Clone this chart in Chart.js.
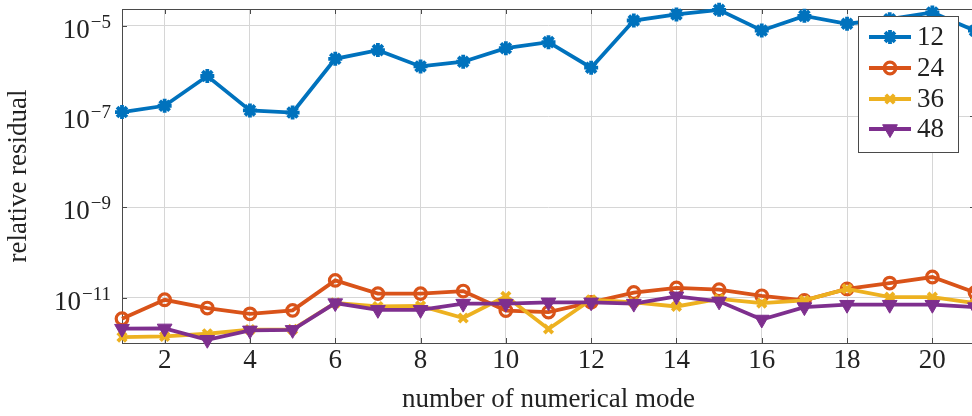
<!DOCTYPE html>
<html>
<head>
<meta charset="utf-8">
<script src="https://cdn.jsdelivr.net/npm/chart.js@4/dist/chart.umd.min.js"></script>
<style>
html, body { margin: 0; padding: 0; overflow: hidden; background: #fff; }
#wrap { width: 976px; height: 416px; }
</style>
</head>
<body>
<div id="wrap"><canvas id="myChart" width="976" height="416"></canvas></div>
<script>
var modes = [1, 2, 3, 4, 5, 6, 7, 8, 9, 10, 11, 12, 13, 14, 15, 16, 17, 18, 19, 20, 21];
var seriesNames = ["12", "24", "36", "48"];
var res12 = [1.25e-7, 1.72e-7, 7.8e-7, 1.36e-7, 1.22e-7, 1.87e-6, 2.91e-6, 1.27e-6, 1.61e-6, 3.21e-6, 4.36e-6,
  1.19e-6, 1.31e-5, 1.78e-5, 2.25e-5, 7.87e-6, 1.66e-5, 1.11e-5, 1.4e-5, 1.97e-5, 7.8e-6];
var res24 = [3.44e-12, 9.0e-12, 5.9e-12, 4.4e-12, 5.25e-12, 2.41e-11, 1.23e-11, 1.23e-11, 1.4e-11, 5.2e-12, 4.8e-12,
  7.9e-12, 1.3e-11, 1.64e-11, 1.5e-11, 1.1e-11, 8.7e-12, 1.56e-11, 2.1e-11, 2.86e-11, 1.3e-11];
var res36 = [1.35e-12, 1.4e-12, 1.6e-12, 1.97e-12, 2.0e-12, 7.7e-12, 6.4e-12, 6.6e-12, 3.56e-12, 1.07e-11, 2.04e-12,
  9.0e-12, 7.9e-12, 6.4e-12, 9.4e-12, 7.6e-12, 8.7e-12, 1.56e-11, 1.03e-11, 1.03e-11, 7.6e-12];
var res48 = [2.07e-12, 2.1e-12, 1.18e-12, 1.9e-12, 1.95e-12, 7.6e-12, 5.4e-12, 5.4e-12, 7.4e-12, 7.4e-12, 7.9e-12,
  7.9e-12, 7.4e-12, 1.07e-11, 8.3e-12, 3.3e-12, 6.2e-12, 7.0e-12, 7.0e-12, 7.0e-12, 6.2e-12];
var xTicks = [2, 4, 6, 8, 10, 12, 14, 16, 18, 20];
var yTickExps = [-11, -9, -7, -5];

var colors = ["#0072BD", "#D95319", "#EDB120", "#7E2F8E"];
var serif = "'Liberation Serif', 'DejaVu Serif', serif";

function pts(arr) {
  return arr.map(function (v, i) { return { x: modes[i], y: v }; });
}

var styles = [
  { pointStyle: "star", radius: 7, fill: false, rot: 0, bw: 3.8 },
  { pointStyle: "circle", radius: 5.8, fill: false, rot: 0, bw: 3.2 },
  { pointStyle: "crossRot", radius: 6, fill: false, rot: 0, bw: 3.8 },
  { pointStyle: "triangle", radius: 8.5, fill: true, rot: 180, bw: 1 }
];
var allData = [res12, res24, res36, res48];

var datasets = allData.map(function (arr, i) {
  var s = styles[i];
  return {
    label: seriesNames[i],
    data: pts(arr),
    borderColor: colors[i],
    backgroundColor: s.fill ? colors[i] : "rgba(0,0,0,0)",
    borderWidth: 3.8,
    pointStyle: s.pointStyle,
    pointRadius: s.radius,
    pointRotation: s.rot,
    pointBorderWidth: s.bw,
    pointBorderColor: colors[i],
    pointBackgroundColor: s.fill ? colors[i] : "rgba(0,0,0,0)",
    tension: 0,
    clip: false,
    order: 3 - i
  };
});

// axes frame + inward ticks, tick labels (with exponents), legend
var framePlugin = {
  id: "frame",
  beforeDatasetsDraw: function (chart) {
    var ctx = chart.ctx, a = chart.chartArea;
    var xs = chart.scales.x, ys = chart.scales.y;
    ctx.save();
    ctx.strokeStyle = "#4a4a4a";
    ctx.lineWidth = 1;
    ctx.beginPath();
    xTicks.forEach(function (t) {
      var px = Math.round(xs.getPixelForValue(t)) + 0.5;
      ctx.moveTo(px, a.bottom); ctx.lineTo(px, a.bottom - 5);
      ctx.moveTo(px, a.top); ctx.lineTo(px, a.top + 5);
    });
    yTickExps.forEach(function (e) {
      var py = Math.round(ys.getPixelForValue(Math.pow(10, e))) + 0.5;
      ctx.moveTo(a.left, py); ctx.lineTo(a.left + 5, py);
      ctx.moveTo(a.right, py); ctx.lineTo(a.right - 5, py);
    });
    ctx.stroke();
    ctx.strokeRect(Math.round(a.left) + 0.5, Math.round(a.top) + 0.5,
      Math.round(a.right - a.left), Math.round(a.bottom - a.top));
    ctx.restore();
  },
  afterDraw: function (chart) {
    var ctx = chart.ctx, ys = chart.scales.y, xs = chart.scales.x, a = chart.chartArea;
    ctx.save();
    ctx.fillStyle = "#222";
    ctx.textAlign = "right";
    ctx.textBaseline = "alphabetic";
    yTickExps.forEach(function (e) {
      var py = ys.getPixelForValue(Math.pow(10, e));
      var sup = "\u2212" + Math.abs(e);
      ctx.font = "19px " + serif;
      var supW = ctx.measureText(sup).width;
      ctx.fillText(sup, 111, py + 2);
      ctx.font = "27px " + serif;
      ctx.fillText("10", 111 - supW - 1, py + 12);
    });
    ctx.textAlign = "center";
    ctx.font = "27px " + serif;
    xTicks.forEach(function (t) {
      ctx.fillText(String(t), xs.getPixelForValue(t), a.bottom + 25);
    });
    ctx.restore();

    // legend
    var lx = 858, ly = 16, lw = 100, lh = 136;
    var rows = [37, 68, 99, 129];
    ctx.save();
    ctx.fillStyle = "#fff";
    ctx.fillRect(lx, ly, lw, lh);
    ctx.strokeStyle = "#4a4a4a";
    ctx.lineWidth = 1;
    ctx.strokeRect(lx + 0.5, ly + 0.5, lw, lh);
    datasets.forEach(function (d, i) {
      var y = rows[i];
      ctx.strokeStyle = d.borderColor;
      ctx.lineWidth = d.borderWidth;
      ctx.beginPath();
      ctx.moveTo(869, y); ctx.lineTo(911, y);
      ctx.stroke();
      ctx.fillStyle = d.pointBackgroundColor;
      ctx.lineWidth = d.pointBorderWidth;
      Chart.helpers.drawPoint(ctx, {
        pointStyle: d.pointStyle, radius: d.pointRadius, rotation: d.pointRotation,
        borderWidth: d.pointBorderWidth
      }, 890, y);
      ctx.fillStyle = "#222";
      ctx.font = "27px " + serif;
      ctx.textAlign = "left";
      ctx.textBaseline = "middle";
      ctx.fillText(d.label, 917, y + 1);
    });
    ctx.restore();
  }
};

new Chart("myChart", {
  type: "line",
  data: { datasets: datasets },
  options: {
    responsive: false,
    animation: false,
    events: [],
    layout: { autoPadding: false, padding: { left: 0, top: 9, right: 1, bottom: 0 } },
    plugins: { legend: { display: false }, tooltip: { enabled: false } },
    scales: {
      x: {
        type: "linear",
        min: 1,
        max: 21,
        afterBuildTicks: function (scale) {
          scale.ticks = xTicks.map(function (t) { return { value: t }; });
        },
        afterFit: function (scale) { scale.height = 73; },
        grid: { color: "#d6d6d6", lineWidth: 1, drawTicks: false },
        border: { display: false },
        ticks: { display: false },
        title: {
          display: true,
          text: "number of numerical mode",
          color: "#222",
          font: { family: serif, size: 27 },
          padding: { top: 0, bottom: 0 }
        }
      },
      y: {
        type: "logarithmic",
        min: 1e-12,
        max: 2.35e-5,
        afterBuildTicks: function (scale) {
          scale.ticks = yTickExps.map(function (e) { return { value: Math.pow(10, e) }; });
        },
        afterFit: function (scale) { scale.width = 122; },
        grid: { color: "#d6d6d6", lineWidth: 1, drawTicks: false },
        border: { display: false },
        ticks: { display: false },
        title: {
          display: true,
          text: "relative residual",
          color: "#222",
          font: { family: serif, size: 27 },
          padding: { top: 3, bottom: 0 }
        }
      }
    }
  },
  plugins: [framePlugin]
});
</script>
</body>
</html>
